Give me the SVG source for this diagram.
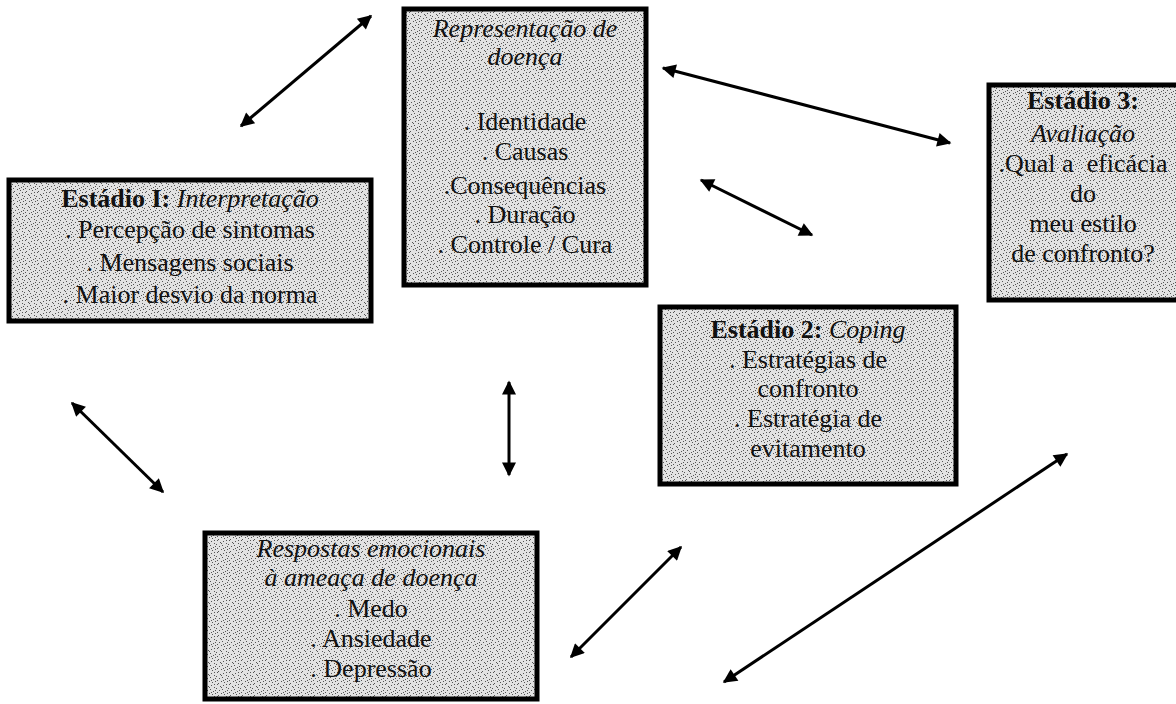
<svg xmlns="http://www.w3.org/2000/svg" width="1176" height="704" viewBox="0 0 1176 704">
<style>
.box{fill:url(#stip);stroke:#000;stroke-width:5}
.t{font-family:"Liberation Serif","Times New Roman",serif;font-size:26px;fill:#111;text-anchor:middle}
.b{font-weight:bold}
.i{font-style:italic}
.c{stroke:#000;stroke-width:3;fill:none;marker-start:url(#ah);marker-end:url(#ah)}
.d{fill:#555}
</style>
<defs>
<pattern id="stip" width="12" height="12" patternUnits="userSpaceOnUse">
<rect width="12" height="12" fill="#e2e2e2"/>
<rect class="d" x="1" y="0" width="1" height="1"/>
<rect class="d" x="7" y="1" width="1" height="1"/>
<rect class="d" x="4" y="2" width="1" height="1"/>
<rect class="d" x="10" y="3" width="1" height="1"/>
<rect class="d" x="0" y="4" width="1" height="1"/>
<rect class="d" x="6" y="5" width="1" height="1"/>
<rect class="d" x="3" y="6" width="1" height="1"/>
<rect class="d" x="9" y="7" width="1" height="1"/>
<rect class="d" x="1" y="8" width="1" height="1"/>
<rect class="d" x="5" y="9" width="1" height="1"/>
<rect class="d" x="11" y="9" width="1" height="1"/>
<rect class="d" x="8" y="10" width="1" height="1"/>
<rect class="d" x="2" y="11" width="1" height="1"/>
<rect class="d" x="10" y="0" width="1" height="1"/>
<rect class="d" x="5" y="3" width="1" height="1"/>
<rect class="d" x="11" y="6" width="1" height="1"/>
<rect class="d" x="7" y="8" width="1" height="1"/>
</pattern>
<marker id="ah" viewBox="0 0 10 10" refX="9" refY="5" markerWidth="17" markerHeight="14" markerUnits="userSpaceOnUse" orient="auto-start-reverse">
<path d="M0,0 L10,5 L0,10 Z" fill="#000"/>
</marker>
</defs>

<g id="representacao">
<rect class="box" x="404" y="9" width="242" height="276"/>
<text class="t i" x="525" y="37">Representação de</text>
<text class="t i" x="525" y="65">doença</text>
<text class="t" x="525" y="130">. Identidade</text>
<text class="t" x="525" y="160">. Causas</text>
<text class="t" x="525" y="194">.Consequências</text>
<text class="t" x="525" y="223">. Duração</text>
<text class="t" x="525" y="253">. Controle / Cura</text>
</g>

<g id="estadio1">
<rect class="box" x="9" y="180" width="362" height="141"/>
<text class="t" x="190" y="207"><tspan class="b">Estádio I:</tspan><tspan class="i"> Interpretação</tspan></text>
<text class="t" x="190" y="238">. Percepção de sintomas</text>
<text class="t" x="190" y="271">. Mensagens sociais</text>
<text class="t" x="190" y="303">. Maior desvio da norma</text>
</g>

<g id="estadio3">
<rect class="box" x="989" y="85" width="200" height="215"/>
<text class="t b" x="1083" y="109">Estádio 3:</text>
<text class="t i" x="1083" y="142">Avaliação</text>
<text class="t" x="1083" y="172" xml:space="preserve">.Qual a  eficácia</text>
<text class="t" x="1083" y="202">do</text>
<text class="t" x="1083" y="232">meu estilo</text>
<text class="t" x="1083" y="262">de confronto?</text>
</g>

<g id="estadio2">
<rect class="box" x="660" y="307" width="296" height="177"/>
<text class="t" x="808" y="338"><tspan class="b">Estádio 2:</tspan><tspan class="i"> Coping</tspan></text>
<text class="t" x="808" y="368">. Estratégias de</text>
<text class="t" x="808" y="397">confronto</text>
<text class="t" x="808" y="427">. Estratégia de</text>
<text class="t" x="808" y="457">evitamento</text>
</g>

<g id="respostas">
<rect class="box" x="205" y="533" width="332" height="166"/>
<text class="t i" x="371" y="557">Respostas emocionais</text>
<text class="t i" x="371" y="586">à ameaça de doença</text>
<text class="t" x="371" y="617">. Medo</text>
<text class="t" x="371" y="647">. Ansiedade</text>
<text class="t" x="371" y="677">. Depressão</text>
</g>

<g id="connectors">
<line class="c" x1="241" y1="126" x2="371" y2="16"/>
<line class="c" x1="663" y1="68" x2="950" y2="143"/>
<line class="c" x1="701" y1="180" x2="812" y2="235"/>
<line class="c" x1="509" y1="382" x2="509" y2="475"/>
<line class="c" x1="72" y1="403" x2="163" y2="492"/>
<line class="c" x1="571" y1="657" x2="681" y2="547"/>
<line class="c" x1="724" y1="682" x2="1067" y2="454"/>
</g>
</svg>
